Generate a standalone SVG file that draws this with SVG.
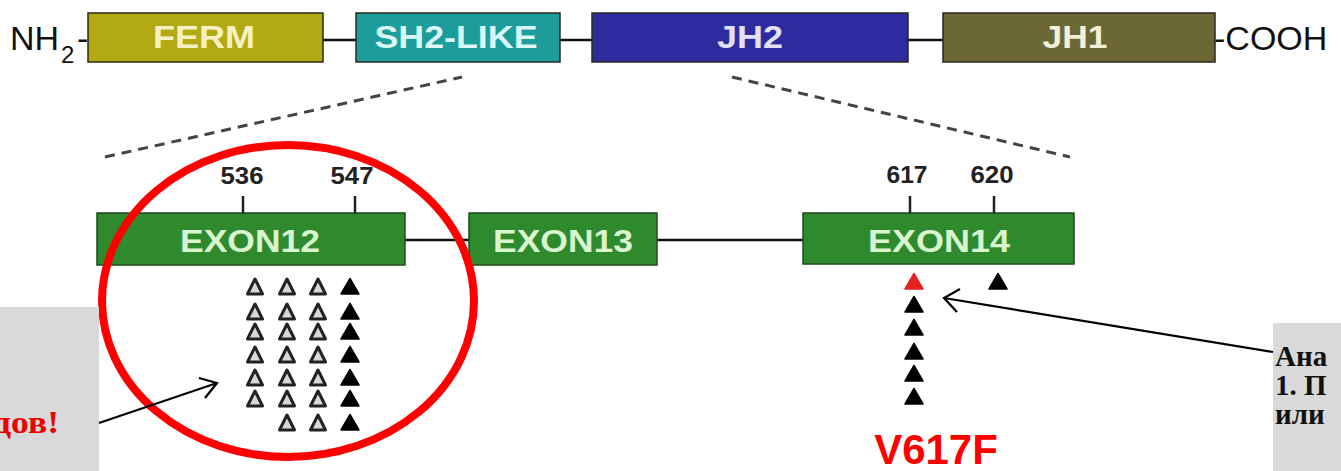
<svg xmlns="http://www.w3.org/2000/svg" width="1341" height="471" viewBox="0 0 1341 471">
<defs>
<style>
.dom{stroke:#2a2a1a;stroke-width:1.5}
.lbl{font-family:"Liberation Sans",Arial,sans-serif;font-weight:bold;font-size:32px;text-anchor:middle}
.exon{fill:#2f8a2d;stroke:#1d4a1b;stroke-width:1.5}
.exl{fill:#d9f5cf}
.num{font-family:"Liberation Sans",Arial,sans-serif;font-weight:bold;font-size:24px;fill:#222;text-anchor:middle}
.tick{stroke:#222;stroke-width:2.5}
.link{stroke:#111;stroke-width:2.5}
.dash{stroke:#444;stroke-width:3;stroke-dasharray:10 7;fill:none}
.term{font-family:"Liberation Sans",Arial,sans-serif;font-size:34px;fill:#111}
.open{fill:#d8d8d8;stroke:#222;stroke-width:3;stroke-linejoin:round}
.full{fill:#000;stroke:#000;stroke-width:1.5;stroke-linejoin:round}
.red{fill:#e52020;stroke:#e52020;stroke-width:1.5;stroke-linejoin:round}
.note{font-family:"Liberation Serif","Times New Roman",serif;font-weight:bold;font-size:29px}
.arr{stroke:#000;stroke-width:2.2;fill:none}
</style>
<path id="t" d="M0,-8 L7.5,7 L-7.5,7 Z"/>
<path id="tf" d="M0,-8.5 L9,7 L-9,7 Z"/>
</defs>

<!-- protein domains -->
<g id="terminals">
<text class="term" x="10" y="50">NH</text>
<text class="term" x="61" y="63" style="font-size:24px">2</text>
<text class="term" x="77" y="50">-</text>
<text class="term" x="1214" y="50">-COOH</text>
</g>
<g id="links">
<line class="link" x1="323" y1="40" x2="356" y2="40"/>
<line class="link" x1="560" y1="40" x2="592" y2="40"/>
<line class="link" x1="908" y1="40" x2="943" y2="40"/>
<line class="link" x1="405" y1="240" x2="469" y2="240"/>
<line class="link" x1="657" y1="240" x2="803" y2="240"/>
</g>
<g id="ferm">
<rect class="dom" x="88" y="13" width="235" height="49" fill="#b3a912"/>
<text class="lbl" x="204" y="48" fill="#f6f1c4" textLength="102" lengthAdjust="spacingAndGlyphs">FERM</text>
</g>
<g id="sh2">
<rect class="dom" x="356" y="13" width="204" height="49" fill="#1c9c9a"/>
<text class="lbl" x="456" y="48" fill="#d9f7f6" textLength="163" lengthAdjust="spacingAndGlyphs">SH2-LIKE</text>
</g>
<g id="jh2">
<rect class="dom" x="592" y="13" width="316" height="49" fill="#2d2b9e"/>
<text class="lbl" x="750" y="48" fill="#e2e0f7" textLength="66" lengthAdjust="spacingAndGlyphs">JH2</text>
</g>
<g id="jh1">
<rect class="dom" x="943" y="13" width="272" height="49" fill="#6b6835"/>
<text class="lbl" x="1075" y="48" fill="#f2f0d6" textLength="65" lengthAdjust="spacingAndGlyphs">JH1</text>
</g>

<!-- zoom dashes -->
<g id="zoomlines">
<line class="dash" x1="105" y1="157" x2="462" y2="77"/>
<line class="dash" x1="732" y1="77" x2="1070" y2="157"/>
</g>

<!-- exons -->
<g id="exon12">
<rect class="exon" x="97" y="213" width="308" height="52"/>
<text class="lbl exl" x="250" y="252" textLength="140" lengthAdjust="spacingAndGlyphs">EXON12</text>
<line class="tick" x1="243" y1="196" x2="243" y2="213"/>
<line class="tick" x1="355" y1="196" x2="355" y2="213"/>
<text class="num" x="242" y="184" textLength="43" lengthAdjust="spacingAndGlyphs">536</text>
<text class="num" x="352" y="184" textLength="43" lengthAdjust="spacingAndGlyphs">547</text>
</g>
<g id="exon13">
<rect class="exon" x="469" y="213" width="188" height="52"/>
<text class="lbl exl" x="563" y="252" textLength="140" lengthAdjust="spacingAndGlyphs">EXON13</text>
</g>
<g id="exon14">
<rect class="exon" x="803" y="213" width="271" height="51"/>
<text class="lbl exl" x="939" y="252" textLength="142" lengthAdjust="spacingAndGlyphs">EXON14</text>
<line class="tick" x1="910" y1="196" x2="910" y2="213"/>
<line class="tick" x1="994" y1="196" x2="994" y2="213"/>
<text class="num" x="907" y="183" textLength="41" lengthAdjust="spacingAndGlyphs">617</text>
<text class="num" x="992" y="183" textLength="43" lengthAdjust="spacingAndGlyphs">620</text>
</g>

<!-- mutation markers exon 12 -->
<g id="exon12-mutations">
<use href="#t" class="open" x="255" y="287"/><use href="#t" class="open" x="287" y="287"/><use href="#t" class="open" x="318" y="287"/><use href="#tf" class="full" x="350" y="287"/>
<use href="#t" class="open" x="255" y="312"/><use href="#t" class="open" x="287" y="312"/><use href="#t" class="open" x="318" y="312"/><use href="#tf" class="full" x="350" y="312"/>
<use href="#t" class="open" x="255" y="332"/><use href="#t" class="open" x="287" y="332"/><use href="#t" class="open" x="318" y="332"/><use href="#tf" class="full" x="350" y="332"/>
<use href="#t" class="open" x="255" y="355"/><use href="#t" class="open" x="287" y="355"/><use href="#t" class="open" x="318" y="355"/><use href="#tf" class="full" x="350" y="355"/>
<use href="#t" class="open" x="255" y="378"/><use href="#t" class="open" x="287" y="378"/><use href="#t" class="open" x="318" y="378"/><use href="#tf" class="full" x="350" y="378"/>
<use href="#t" class="open" x="255" y="399"/><use href="#t" class="open" x="287" y="399"/><use href="#t" class="open" x="318" y="399"/><use href="#tf" class="full" x="350" y="399"/>
<use href="#t" class="open" x="287" y="423"/><use href="#t" class="open" x="318" y="423"/><use href="#tf" class="full" x="350" y="423"/>
</g>

<!-- mutation markers exon 14 -->
<g id="exon14-mutations">
<use href="#tf" class="red" x="914" y="282"/>
<use href="#tf" class="full" x="914" y="305"/>
<use href="#tf" class="full" x="914" y="328"/>
<use href="#tf" class="full" x="914" y="352"/>
<use href="#tf" class="full" x="914" y="374"/>
<use href="#tf" class="full" x="914" y="397"/>
<use href="#tf" class="full" x="998" y="282"/>
<text x="936" y="464" style="font-family:'Liberation Sans',Arial,sans-serif;font-weight:bold;font-size:42px;fill:#ff0000;text-anchor:middle">V617F</text>
</g>

<!-- highlight ellipse -->
<g id="highlight">
<ellipse cx="288" cy="301" rx="186" ry="156" fill="none" stroke="#ff0000" stroke-width="8"/>
</g>

<!-- note boxes -->
<g id="note-left">
<rect x="0" y="307" width="99" height="164" fill="#d9d9d9"/>
<text class="note" x="-7" y="433" fill="#ee0000" style="font-size:31px" textLength="66" lengthAdjust="spacingAndGlyphs">дов!</text>
</g>
<g id="note-right">
<rect x="1273" y="323" width="68" height="148" fill="#d9d9d9"/>
<text class="note" x="1275" y="366" fill="#111">Ана</text>
<text class="note" x="1275" y="395" fill="#111">1. П</text>
<text class="note" x="1275" y="424" fill="#111">или</text>
</g>

<!-- connectors -->
<g id="connectors">
<line class="arr" x1="99" y1="423" x2="217" y2="383"/>
<polyline class="arr" points="199,378 217,383 205,398"/>
<line class="arr" x1="1273" y1="352" x2="944" y2="298"/>
<polyline class="arr" points="960,289 944,298 957,312"/>
</g>
</svg>
